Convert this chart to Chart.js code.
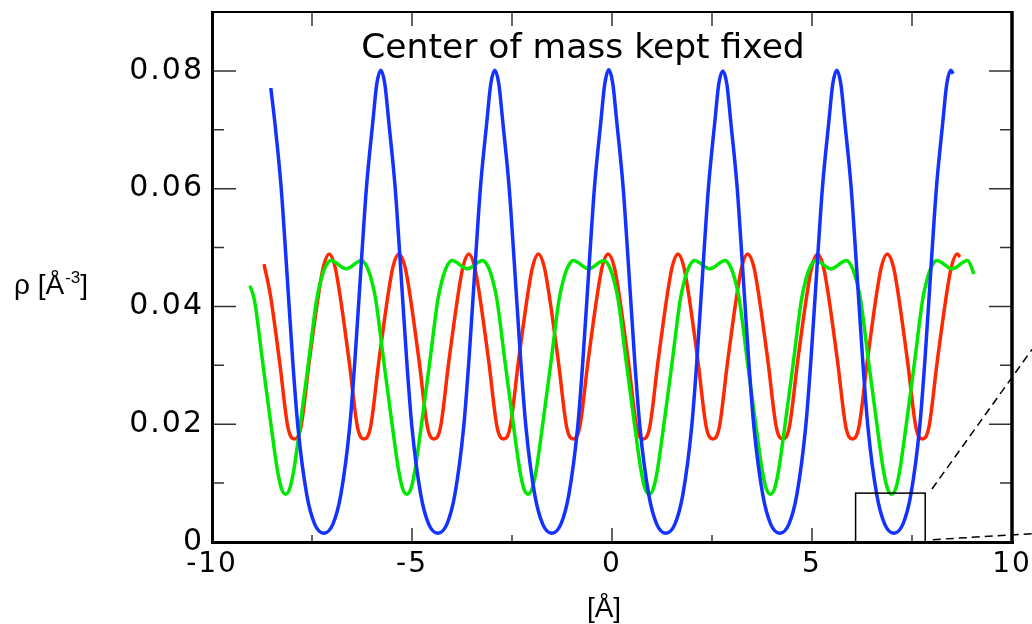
<!DOCTYPE html>
<html>
<head>
<meta charset="utf-8">
<script src="https://cdn.jsdelivr.net/npm/chart.js@4.4.1/dist/chart.umd.min.js"></script>
<style>
html, body { margin: 0; padding: 0; background: #fff; }
</style>
</head>
<body>
<canvas id="chart" width="1032" height="624"></canvas>
<script>
// axis ticks
const xTickValues = [-10, -5, 0, 5, 10];
const xTickLabels = ['-10', '-5', '0', '5', '10'];
const xMinorTicks = [-7.5, -2.5, 2.5, 7.5];
const yTickValues = [0, 0.02, 0.04, 0.06, 0.08];
const yTickLabels = ['0', '0.02', '0.04', '0.06', '0.08'];
const yMinorTicks = [0.01, 0.03, 0.05, 0.07];

// blue curve
const blueX = [-8.53, -8.43, -8.27, -8.155, -7.98, -7.85, -7.63, -7.43, -7.205,
  -6.98, -6.78, -6.56, -6.43, -6.255, -6.14, -5.98, -5.88, -5.78,
  -5.68, -5.58, -5.42, -5.305, -5.13, -5.00, -4.78, -4.58, -4.355,
  -4.13, -3.93, -3.71, -3.58, -3.405, -3.29, -3.13, -3.03, -2.93,
  -2.83, -2.73, -2.57, -2.455, -2.28, -2.15, -1.93, -1.73, -1.505,
  -1.28, -1.08, -0.86, -0.73, -0.555, -0.44, -0.28, -0.18, -0.08,
  0.02, 0.12, 0.28, 0.395, 0.57, 0.70, 0.92, 1.12, 1.345,
  1.57, 1.77, 1.99, 2.12, 2.295, 2.41, 2.57, 2.67, 2.77,
  2.87, 2.97, 3.13, 3.245, 3.42, 3.55, 3.77, 3.97, 4.195,
  4.42, 4.62, 4.84, 4.97, 5.145, 5.26, 5.42, 5.52, 5.62,
  5.72, 5.82, 5.98, 6.095, 6.27, 6.40, 6.62, 6.82, 7.045,
  7.27, 7.47, 7.69, 7.82, 7.995, 8.11, 8.27, 8.37, 8.47,
  8.53];
const blueY = [0.0771, 0.0713, 0.0601, 0.0487, 0.0306, 0.0194, 0.0080, 0.0030, 0.0015,
  0.0030, 0.0080, 0.0194, 0.0306, 0.0487, 0.0601, 0.0713, 0.0778, 0.0801,
  0.0778, 0.0713, 0.0601, 0.0487, 0.0306, 0.0194, 0.0080, 0.0030, 0.0015,
  0.0030, 0.0080, 0.0194, 0.0306, 0.0487, 0.0601, 0.0713, 0.0778, 0.0801,
  0.0778, 0.0713, 0.0601, 0.0487, 0.0306, 0.0194, 0.0080, 0.0030, 0.0015,
  0.0030, 0.0080, 0.0194, 0.0306, 0.0487, 0.0601, 0.0713, 0.0778, 0.0802,
  0.0778, 0.0713, 0.0601, 0.0487, 0.0306, 0.0194, 0.0080, 0.0030, 0.0015,
  0.0030, 0.0080, 0.0194, 0.0306, 0.0487, 0.0601, 0.0713, 0.0778, 0.0800,
  0.0778, 0.0713, 0.0601, 0.0487, 0.0306, 0.0194, 0.0080, 0.0030, 0.0015,
  0.0030, 0.0080, 0.0194, 0.0306, 0.0487, 0.0601, 0.0713, 0.0778, 0.0801,
  0.0778, 0.0713, 0.0601, 0.0487, 0.0306, 0.0194, 0.0080, 0.0030, 0.0015,
  0.0030, 0.0080, 0.0194, 0.0306, 0.0487, 0.0601, 0.0713, 0.0778, 0.0801,
  0.0795];

// red curve
const redX = [-8.70, -8.54, -8.31, -8.10, -7.94, -7.78, -7.57, -7.34, -7.22, -7.07,
  -6.92, -6.80, -6.57, -6.36, -6.20, -6.04, -5.83, -5.60, -5.48, -5.33,
  -5.17, -5.05, -4.82, -4.61, -4.45, -4.29, -4.08, -3.85, -3.73, -3.58,
  -3.43, -3.31, -3.08, -2.87, -2.71, -2.55, -2.34, -2.11, -1.99, -1.84,
  -1.69, -1.57, -1.34, -1.13, -0.97, -0.81, -0.60, -0.37, -0.25, -0.10,
  0.06, 0.18, 0.41, 0.62, 0.78, 0.94, 1.15, 1.38, 1.50, 1.65,
  1.80, 1.92, 2.15, 2.36, 2.52, 2.68, 2.89, 3.12, 3.24, 3.39,
  3.55, 3.67, 3.90, 4.11, 4.27, 4.43, 4.64, 4.87, 4.99, 5.14,
  5.29, 5.41, 5.64, 5.85, 6.01, 6.17, 6.38, 6.61, 6.73, 6.88,
  7.04, 7.16, 7.39, 7.60, 7.76, 7.92, 8.13, 8.36, 8.48, 8.63,
  8.70];
const redY = [0.0472, 0.0419, 0.0306, 0.0194, 0.0175, 0.0194, 0.0306, 0.0419, 0.0466, 0.0489,
  0.0466, 0.0419, 0.0306, 0.0194, 0.0175, 0.0194, 0.0306, 0.0419, 0.0466, 0.0489,
  0.0466, 0.0419, 0.0306, 0.0194, 0.0175, 0.0194, 0.0306, 0.0419, 0.0466, 0.0489,
  0.0466, 0.0419, 0.0306, 0.0194, 0.0175, 0.0194, 0.0306, 0.0419, 0.0466, 0.0489,
  0.0466, 0.0419, 0.0306, 0.0194, 0.0175, 0.0194, 0.0306, 0.0419, 0.0466, 0.0489,
  0.0466, 0.0419, 0.0306, 0.0194, 0.0175, 0.0194, 0.0306, 0.0419, 0.0466, 0.0489,
  0.0466, 0.0419, 0.0306, 0.0194, 0.0175, 0.0194, 0.0306, 0.0419, 0.0466, 0.0489,
  0.0466, 0.0419, 0.0306, 0.0194, 0.0175, 0.0194, 0.0306, 0.0419, 0.0466, 0.0489,
  0.0466, 0.0419, 0.0306, 0.0194, 0.0175, 0.0194, 0.0306, 0.0419, 0.0466, 0.0489,
  0.0466, 0.0419, 0.0306, 0.0194, 0.0175, 0.0194, 0.0306, 0.0419, 0.0466, 0.0489,
  0.0484];

// green curve
const greenX = [-9.05, -8.94, -8.735, -8.51, -8.36, -8.26, -8.16,
  -8.06, -7.96, -7.81, -7.585, -7.385, -7.28, -7.18, -7.03, -6.645, -6.26, -6.11, -6.01, -5.905, -5.705, -5.48, -5.33, -5.23, -5.13,
  -5.03, -4.93, -4.78, -4.555, -4.355, -4.25, -4.15, -4.00, -3.615, -3.23, -3.08, -2.98, -2.875, -2.675, -2.45, -2.30, -2.20, -2.10,
  -2.00, -1.90, -1.75, -1.525, -1.325, -1.22, -1.12, -0.97, -0.585, -0.20, -0.05, 0.05, 0.155, 0.355, 0.58, 0.73, 0.83, 0.93,
  1.03, 1.13, 1.28, 1.505, 1.705, 1.81, 1.91, 2.06, 2.445, 2.83, 2.98, 3.08, 3.185, 3.385, 3.61, 3.76, 3.86, 3.96,
  4.06, 4.16, 4.31, 4.535, 4.735, 4.84, 4.94, 5.09, 5.475, 5.86, 6.01, 6.11, 6.215, 6.415, 6.64, 6.79, 6.89, 6.99,
  7.09, 7.19, 7.34, 7.565, 7.765, 7.87, 7.97, 8.12, 8.505, 8.89, 9.05];
const greenY = [0.0435, 0.0411, 0.0306, 0.0191, 0.0120, 0.0090, 0.0081,
  0.0090, 0.0120, 0.0191, 0.0306, 0.0411, 0.0444, 0.0465, 0.0478, 0.0464, 0.0478, 0.0465, 0.0444, 0.0411, 0.0306, 0.0191, 0.0120, 0.0090, 0.0081,
  0.0090, 0.0120, 0.0191, 0.0306, 0.0411, 0.0444, 0.0465, 0.0478, 0.0464, 0.0478, 0.0465, 0.0444, 0.0411, 0.0306, 0.0191, 0.0120, 0.0090, 0.0081,
  0.0090, 0.0120, 0.0191, 0.0306, 0.0411, 0.0444, 0.0465, 0.0478, 0.0464, 0.0478, 0.0465, 0.0444, 0.0411, 0.0306, 0.0191, 0.0120, 0.0090, 0.0081,
  0.0090, 0.0120, 0.0191, 0.0306, 0.0411, 0.0444, 0.0465, 0.0478, 0.0464, 0.0478, 0.0465, 0.0444, 0.0411, 0.0306, 0.0191, 0.0120, 0.0090, 0.0081,
  0.0090, 0.0120, 0.0191, 0.0306, 0.0411, 0.0444, 0.0465, 0.0478, 0.0464, 0.0478, 0.0465, 0.0444, 0.0411, 0.0306, 0.0191, 0.0120, 0.0090, 0.0081,
  0.0090, 0.0120, 0.0191, 0.0306, 0.0411, 0.0444, 0.0465, 0.0478, 0.0464, 0.0478, 0.0455];

// zoom box and its leader lines (data units)
const zoomBoxX = [6.09, 7.83];
const zoomBoxY = [0, 0.0083];
const leaderTop = [[8.0, 0.0090], [10.5, 0.0327]];
const leaderBottom = [[8.02, 0.0004], [10.5, 0.0014]];

const titleText = 'Center of mass kept fixed';

function pts(xs, ys) {
  return xs.map((x, i) => ({ x: x, y: ys[i] }));
}

const frame = {
  id: 'frame',
  beforeDraw(chart) {
    chart.ctx.letterSpacing = '2px';
  },
  afterDraw(chart) {
    const ctx = chart.ctx;
    const a = chart.chartArea;
    const xs = chart.scales.x, ys = chart.scales.y;
    ctx.save();
    ctx.letterSpacing = '0px';

    // inward ticks on all four sides
    ctx.strokeStyle = '#333';
    ctx.lineWidth = 1.5;
    ctx.beginPath();
    yTickValues.forEach(v => {
      const p = ys.getPixelForValue(v);
      ctx.moveTo(a.left, p); ctx.lineTo(a.left + 24, p);
      ctx.moveTo(a.right, p); ctx.lineTo(a.right - 23, p);
    });
    yMinorTicks.forEach(v => {
      const p = ys.getPixelForValue(v);
      ctx.moveTo(a.left, p); ctx.lineTo(a.left + 12, p);
      ctx.moveTo(a.right, p); ctx.lineTo(a.right - 12, p);
    });
    xTickValues.forEach(v => {
      const p = xs.getPixelForValue(v);
      ctx.moveTo(p, a.bottom); ctx.lineTo(p, a.bottom - 14);
      ctx.moveTo(p, a.top); ctx.lineTo(p, a.top + 14);
    });
    xMinorTicks.forEach(v => {
      const p = xs.getPixelForValue(v);
      ctx.moveTo(p, a.bottom); ctx.lineTo(p, a.bottom - 7);
      ctx.moveTo(p, a.top); ctx.lineTo(p, a.top + 14);
    });
    ctx.stroke();

    // frame
    ctx.strokeStyle = '#000';
    ctx.lineWidth = 2;
    ctx.beginPath(); ctx.moveTo(a.left, a.top); ctx.lineTo(a.right, a.top); ctx.stroke();
    ctx.lineWidth = 3;
    ctx.beginPath(); ctx.moveTo(a.left + 0.5, a.top - 1); ctx.lineTo(a.left + 0.5, a.bottom + 2); ctx.stroke();
    ctx.beginPath(); ctx.moveTo(a.left, a.bottom + 0.5); ctx.lineTo(a.right + 2, a.bottom + 0.5); ctx.stroke();
    ctx.lineWidth = 3.5;
    ctx.beginPath(); ctx.moveTo(a.right, a.top - 1); ctx.lineTo(a.right, a.bottom + 2); ctx.stroke();

    // zoom box
    ctx.lineWidth = 1.5;
    const bx0 = xs.getPixelForValue(zoomBoxX[0]), bx1 = xs.getPixelForValue(zoomBoxX[1]);
    const by0 = ys.getPixelForValue(zoomBoxY[0]), by1 = ys.getPixelForValue(zoomBoxY[1]);
    ctx.strokeRect(bx0, by1, bx1 - bx0, by0 - by1);

    // dashed leader lines
    ctx.setLineDash([8, 5]);
    [leaderTop, leaderBottom].forEach(l => {
      ctx.beginPath();
      ctx.moveTo(xs.getPixelForValue(l[0][0]), ys.getPixelForValue(l[0][1]));
      ctx.lineTo(xs.getPixelForValue(l[1][0]), ys.getPixelForValue(l[1][1]));
      ctx.stroke();
    });
    ctx.setLineDash([]);

    // title inside plot
    ctx.fillStyle = '#000';
    ctx.textAlign = 'center';
    ctx.textBaseline = 'alphabetic';
    let fs = 30;
    ctx.font = fs + 'px "DejaVu Sans"';
    fs = fs * 443 / ctx.measureText(titleText).width;
    ctx.font = fs.toFixed(1) + 'px "DejaVu Sans"';
    ctx.fillText(titleText, 583, 58);

    // x axis title
    ctx.font = '28px "Liberation Sans"';
    ctx.fillText('[Å]', 604, 617);

    // y axis title with superscript
    ctx.textAlign = 'left';
    let x = 14;
    const main = 'ρ [Å';
    ctx.fillText(main, x, 294);
    x += ctx.measureText(main).width;
    ctx.font = '17px "Liberation Sans"';
    ctx.fillText('-3', x + 1, 283);
    x += ctx.measureText('-3').width + 1;
    ctx.font = '28px "Liberation Sans"';
    ctx.fillText(']', x, 294);

    ctx.restore();
  }
};

new Chart(document.getElementById('chart'), {
  type: 'line',
  data: {
    datasets: [
      { label: 'red', data: pts(redX, redY), borderColor: '#ff2800', order: 2 },
      { label: 'green', data: pts(greenX, greenY), borderColor: '#00e800', order: 1 },
      { label: 'blue', data: pts(blueX, blueY), borderColor: '#1432ff', order: 0 }
    ]
  },
  options: {
    responsive: false,
    animation: false,
    devicePixelRatio: 1,
    layout: { padding: { top: 12, right: 20, left: 0, bottom: 0 } },
    elements: {
      point: { radius: 0 },
      line: { borderWidth: 3.5, cubicInterpolationMode: 'monotone', fill: false }
    },
    plugins: { legend: { display: false }, tooltip: { enabled: false } },
    scales: {
      x: {
        type: 'linear', min: -10, max: 10,
        grid: { display: false, drawTicks: false },
        border: { display: false },
        ticks: {
          color: '#000', font: { family: 'DejaVu Sans', size: 28 }, padding: 6,
          maxRotation: 0, autoSkip: false,
          callback: v => xTickLabels[xTickValues.indexOf(v)]
        },
        afterBuildTicks: s => { s.ticks = xTickValues.map(v => ({ value: v })); },
        afterFit: s => { s.height = 82; s.paddingLeft = 0; s.paddingRight = 0; }
      },
      y: {
        min: 0, max: 0.09,
        grid: { display: false, drawTicks: false },
        border: { display: false },
        ticks: {
          color: '#000', font: { family: 'DejaVu Sans', size: 30 }, padding: 8,
          autoSkip: false,
          callback: v => yTickLabels[yTickValues.indexOf(v)]
        },
        afterBuildTicks: s => { s.ticks = yTickValues.map(v => ({ value: v })); },
        afterFit: s => { s.width = 212; s.paddingTop = 0; s.paddingBottom = 0; }
      }
    }
  },
  plugins: [frame]
});
</script>
</body>
</html>
